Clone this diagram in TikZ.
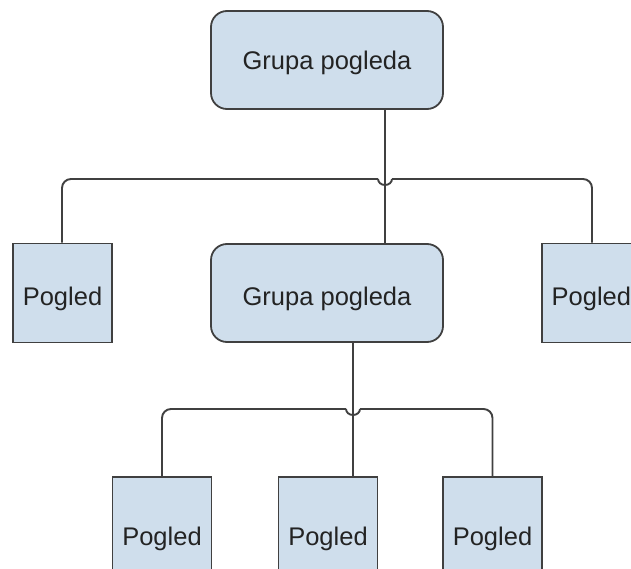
\documentclass[tikz,border=0pt]{standalone}
\usepackage{fontspec}
\setmainfont{Liberation Sans}
\newcommand\lowtext[2]{\raisebox{-#1}[0pt][0pt]{#2}}
\begin{document}
\begin{tikzpicture}[x=1pt,y=-1pt,
  box/.style={draw=linegray, fill=boxblue, line width=1.8pt, inner sep=0pt, font=\fontsize{25.5}{30}\selectfont, text=textgray},
  grp/.style={box, rounded corners=16pt, minimum width=232pt, minimum height=98pt},
  leaf/.style={box, minimum width=99pt, minimum height=99pt},
  conn/.style={draw=linegray, line width=1.9pt}]
\definecolor{boxblue}{RGB}{207,222,236}
\definecolor{linegray}{RGB}{64,64,64}
\definecolor{textgray}{RGB}{35,35,35}
\useasboundingbox (0,0) rectangle (631,569);
% nodes
\node[grp] (tg) at (327,60) {\lowtext{10pt}{Grupa pogleda}};
\node[grp] (gm) at (327,293) {\lowtext{12.5pt}{Grupa pogleda}};
\node[leaf] (pl) at (62.5,293) {\lowtext{12pt}{Pogled}};
\node[leaf, anchor=west] (pr) at (541,293) {\lowtext{12pt}{Pogled}};
\node[leaf, minimum height=120pt, anchor=north] (b1) at (162,476) {\lowtext{9pt}{Pogled}};
\node[leaf, minimum height=120pt, anchor=north] (b2) at (328,476) {\lowtext{9pt}{Pogled}};
\node[leaf, minimum height=120pt, anchor=north] (b3) at (492.5,476) {\lowtext{9pt}{Pogled}};
% hop coordinates
\coordinate (h1) at (385,179);
\coordinate (h1l) at (378,179);
\coordinate (h1r) at (392,179);
\coordinate (h2) at (353,409);
\coordinate (h2l) at (346,409);
\coordinate (h2r) at (360,409);
% top level connectors
\draw[conn] (tg.south -| h1) -- (gm.north -| h1);
\draw[conn, rounded corners=9pt] (pl.north -| 62,0) |- (h1l);
\draw[conn] (h1l) arc[start angle=180, end angle=0, x radius=7pt, y radius=-6pt];
\draw[conn, rounded corners=9pt] (h1r) -| (pr.north -| 592,0);
% second level connectors
\draw[conn] (gm.south -| h2) -- (b2.north -| h2);
\draw[conn, rounded corners=9pt] (b1.north) |- (h2l);
\draw[conn] (h2l) arc[start angle=180, end angle=0, x radius=7pt, y radius=-6pt];
\draw[conn, rounded corners=9pt] (h2r) -| (b3.north);
\end{tikzpicture}
\end{document}
